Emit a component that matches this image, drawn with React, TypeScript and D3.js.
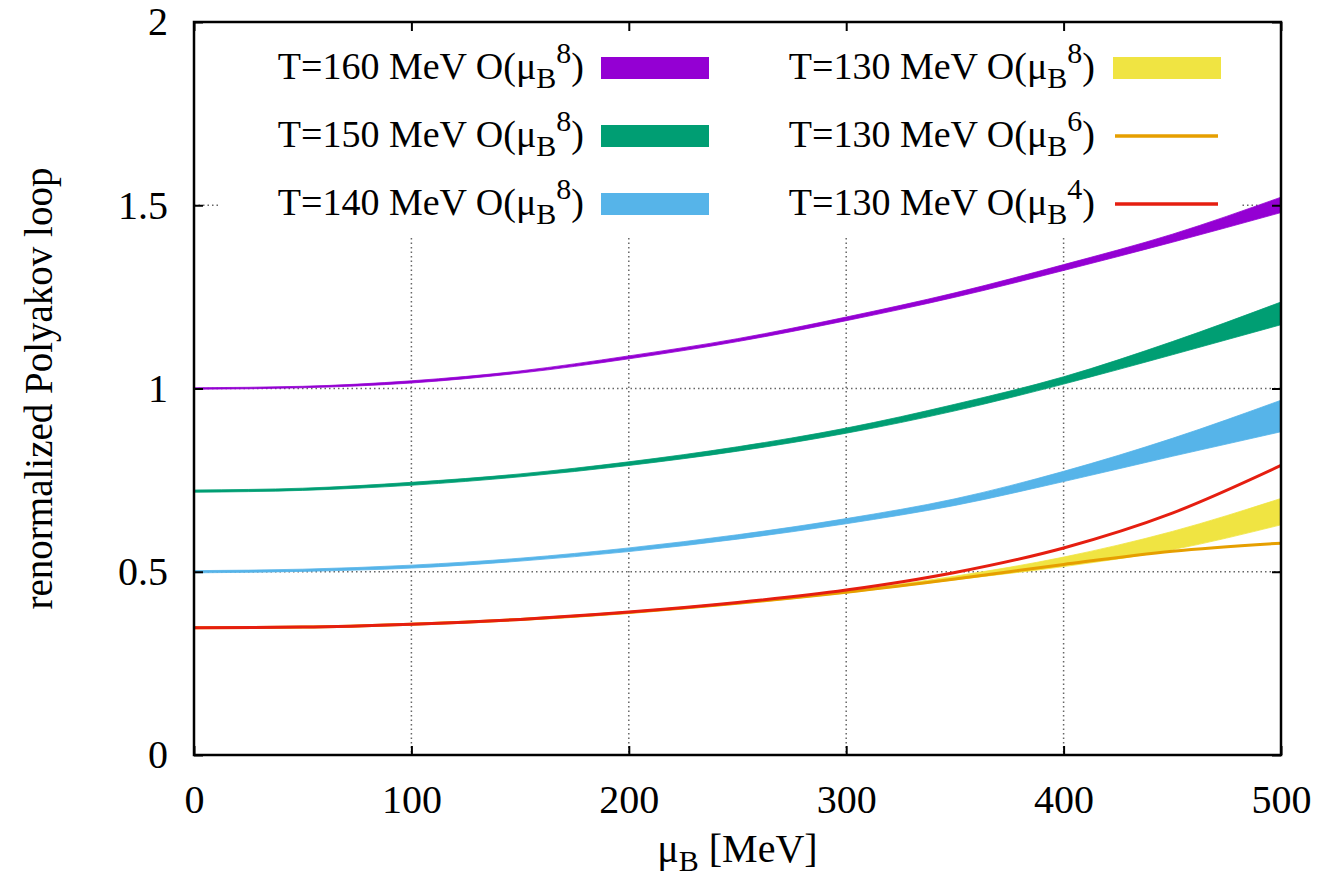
import React, { useEffect, useRef } from 'react';
import * as d3 from 'd3';

// mu_B grid (MeV)
const muB = [0, 50, 100, 150, 200, 250, 300, 350, 400, 450, 500];

// T=160 MeV O(mu^8) band
const t160Lo = [0.998, 1.002, 1.015, 1.042, 1.081, 1.128, 1.185, 1.249, 1.322, 1.399, 1.480];
const t160Hi = [1.002, 1.006, 1.021, 1.048, 1.089, 1.136, 1.195, 1.261, 1.338, 1.421, 1.522];
// T=150 MeV O(mu^8) band
const t150Lo = [0.717, 0.722, 0.736, 0.759, 0.790, 0.829, 0.878, 0.939, 1.012, 1.092, 1.174];
const t150Hi = [0.723, 0.728, 0.744, 0.767, 0.800, 0.841, 0.892, 0.957, 1.032, 1.128, 1.236];
// T=140 MeV O(mu^8) band
const t140Lo = [0.497, 0.501, 0.510, 0.529, 0.555, 0.589, 0.631, 0.681, 0.746, 0.815, 0.882];
const t140Hi = [0.503, 0.507, 0.518, 0.537, 0.565, 0.601, 0.645, 0.699, 0.774, 0.864, 0.968];
// T=130 MeV O(mu^8) band
const t130Lo = [0.345, 0.347, 0.355, 0.368, 0.387, 0.412, 0.442, 0.478, 0.514, 0.560, 0.628];
const t130Hi = [0.349, 0.351, 0.359, 0.372, 0.391, 0.416, 0.448, 0.488, 0.540, 0.610, 0.700];
// T=130 MeV O(mu^6) and O(mu^4) lines
const t130o6 = [0.347, 0.349, 0.357, 0.370, 0.389, 0.414, 0.444, 0.480, 0.520, 0.556, 0.578];
const t130o4 = [0.347, 0.349, 0.357, 0.370, 0.390, 0.416, 0.450, 0.498, 0.565, 0.660, 0.790];

const xTicks = [0, 100, 200, 300, 400, 500];
const yTicks = [0, 0.5, 1, 1.5, 2];

const bands = [
  { label: '160', order: '8', lo: t160Lo, hi: t160Hi, color: '#9400d3' },
  { label: '150', order: '8', lo: t150Lo, hi: t150Hi, color: '#009e73' },
  { label: '140', order: '8', lo: t140Lo, hi: t140Hi, color: '#56b4e9' },
  { label: '130', order: '8', lo: t130Lo, hi: t130Hi, color: '#f0e442' },
];
const lines = [
  { label: '130', order: '6', vals: t130o6, color: '#e69f00' },
  { label: '130', order: '4', vals: t130o4, color: '#e51e10' },
];

const FONT = '"Liberation Serif", "Times New Roman", serif';

const App = () => {
  const svgRef = useRef<SVGSVGElement>(null);

  useEffect(() => {
    const W = 1321;
    const H = 884;
    const left = 194, right = 1281, top = 22, bottom = 755;

    const svg = d3.select(svgRef.current).attr('width', W).attr('height', H);
    svg.selectAll('*').remove();

    const x = d3.scaleLinear().domain([0, 500]).range([left, right]);
    const y = d3.scaleLinear().domain([0, 2]).range([bottom, top]);

    svg.append('rect').attr('width', W).attr('height', H).attr('fill', 'white');

    svg.append('defs').append('clipPath').attr('id', 'plotclip')
      .append('rect').attr('x', left).attr('y', top)
      .attr('width', right - left).attr('height', bottom - top);

    // grid
    const grid = svg.append('g')
      .attr('stroke', '#666').attr('stroke-width', 1.5).attr('stroke-dasharray', '1.5,3');
    xTicks.slice(1, -1).forEach(t => {
      grid.append('line').attr('x1', x(t)).attr('x2', x(t)).attr('y1', top).attr('y2', bottom);
    });
    yTicks.slice(1, -1).forEach(t => {
      grid.append('line').attr('x1', left).attr('x2', right).attr('y1', y(t)).attr('y2', y(t));
    });

    // opaque key background
    svg.append('rect').attr('x', 220).attr('y', top + 1).attr('width', 1020).attr('height', 215)
      .attr('fill', 'white');

    const plot = svg.append('g').attr('clip-path', 'url(#plotclip)');

    bands.forEach(b => {
      const area = d3.area<number>()
        .x((_, i) => x(muB[i]))
        .y0((_, i) => y(b.lo[i]))
        .y1((_, i) => y(b.hi[i]))
        .curve(d3.curveMonotoneX);
      plot.append('path').attr('d', area(muB)).attr('fill', b.color)
        .attr('stroke', b.color).attr('stroke-width', 0.8);
    });

    lines.forEach(l => {
      const line = d3.line<number>()
        .x((_, i) => x(muB[i]))
        .y((_, i) => y(l.vals[i]))
        .curve(d3.curveMonotoneX);
      plot.append('path').attr('d', line(muB)).attr('fill', 'none')
        .attr('stroke', l.color).attr('stroke-width', 3);
    });

    // axes (ticks inward, mirrored)
    const styleAxis = (g: any) => {
      g.select('.domain').remove();
      g.selectAll('.tick line').attr('stroke', 'black').attr('stroke-width', 2);
      g.selectAll('.tick text').attr('font-family', FONT).attr('font-size', 40).attr('fill', 'black');
    };
    svg.append('g').attr('transform', `translate(0,${bottom})`)
      .call(d3.axisBottom(x).tickValues(xTicks).tickSizeInner(-9).tickSizeOuter(0).tickPadding(30)
        .tickFormat(d3.format('d')))
      .call(styleAxis);
    svg.append('g').attr('transform', `translate(0,${top})`)
      .call(d3.axisTop(x).tickValues(xTicks).tickSizeInner(-9).tickSizeOuter(0).tickFormat(() => ''))
      .call(styleAxis);
    svg.append('g').attr('transform', `translate(${left},0)`)
      .call(d3.axisLeft(y).tickValues(yTicks).tickSizeInner(-9).tickSizeOuter(0).tickPadding(26)
        .tickFormat(d => String(d)))
      .call(styleAxis);
    svg.append('g').attr('transform', `translate(${right},0)`)
      .call(d3.axisRight(y).tickValues(yTicks).tickSizeInner(-9).tickSizeOuter(0).tickFormat(() => ''))
      .call(styleAxis);

    // frame
    svg.append('rect').attr('x', left).attr('y', top).attr('width', right - left).attr('height', bottom - top)
      .attr('fill', 'none').attr('stroke', 'black').attr('stroke-width', 2.5);

    // key
    const key = svg.append('g').attr('font-family', FONT).attr('font-size', 38).attr('fill', 'black');
    const rowY = [68, 136, 204];
    const addLabel = (tx: number, ty: number, temp: string, order: string) => {
      const t = key.append('text').attr('x', tx).attr('y', ty + 11).attr('text-anchor', 'end');
      t.append('tspan').text(`T=${temp} MeV O(μ`);
      t.append('tspan').attr('font-size', 30).attr('dy', 9).text('B');
      t.append('tspan').attr('font-size', 30).attr('dy', -25).text(order);
      t.append('tspan').attr('dy', 16).text(')');
    };
    bands.slice(0, 3).forEach((b, i) => {
      addLabel(584, rowY[i], b.label, b.order);
      key.append('rect').attr('x', 601).attr('y', rowY[i] - 11).attr('width', 108).attr('height', 22)
        .attr('fill', b.color);
    });
    addLabel(1095, rowY[0], bands[3].label, bands[3].order);
    key.append('rect').attr('x', 1113).attr('y', rowY[0] - 11).attr('width', 108).attr('height', 22)
      .attr('fill', bands[3].color);
    lines.forEach((l, i) => {
      addLabel(1095, rowY[i + 1], l.label, l.order);
      key.append('line').attr('x1', 1115).attr('x2', 1218).attr('y1', rowY[i + 1]).attr('y2', rowY[i + 1])
        .attr('stroke', l.color).attr('stroke-width', 3.5);
    });

    // axis titles
    const xt = svg.append('text').attr('x', (left + right) / 2).attr('y', 862).attr('text-anchor', 'middle')
      .attr('font-family', FONT).attr('font-size', 40);
    xt.append('tspan').text('μ');
    xt.append('tspan').attr('font-size', 30).attr('dy', 9).text('B');
    xt.append('tspan').attr('dy', -9).text(' [MeV]');

    svg.append('text').attr('transform', `translate(52,${(top + bottom) / 2}) rotate(-90)`)
      .attr('text-anchor', 'middle').attr('font-family', FONT).attr('font-size', 39)
      .text('renormalized Polyakov loop');
  }, []);

  return <svg ref={svgRef} style={{ display: 'block', position: 'absolute', left: 0, top: 0 }}></svg>;
};

export default App;
